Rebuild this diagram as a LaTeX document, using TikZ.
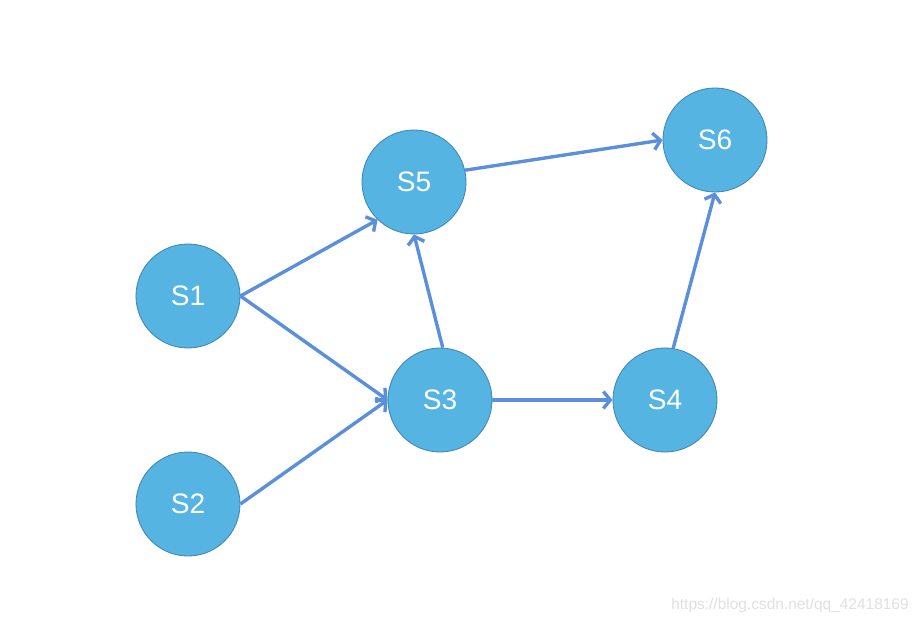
\documentclass[tikz,border=0pt]{standalone}
\usepackage{fontspec}
\setmainfont{Liberation Sans}
\definecolor{statefill}{HTML}{56B4E2}
\definecolor{stateline}{HTML}{3E86B0}
\definecolor{edgeblue}{HTML}{5B8FDB}
\tikzset{
  state/.style={circle,fill=statefill,draw=stateline,line width=0.6pt,minimum size=2.6cm,inner sep=0pt,text=white,font=\fontsize{20}{24}\selectfont},
  edge/.style={->,draw=edgeblue,line width=2.4pt,>={Straight Barb[length=5pt,width=12pt]}}
}
\usetikzlibrary{arrows.meta}
\begin{document}
\begin{tikzpicture}[x=0.025cm,y=-0.025cm]
\useasboundingbox (0,0) rectangle (922,624);
% states
\node[state] (s1) at (188,296) {S1};
\node[state] (s2) at (188,504) {S2};
\node[state] (s3) at (440,400) {S3};
\node[state] (s4) at (665,400) {S4};
\node[state] (s5) at (414,182) {S5};
\node[state] (s6) at (715,140) {S6};
% transitions
\draw[edge] (s1.east) -- (s5.226);
\draw[edge] (s1.east) -- (s3.west);
\draw[edge] (s2.east) -- (s3.west);
\draw[edge] (s3.87) -- (s5.south);
\draw[edge] (s3.east) -- (s4.west);
\draw[edge] (s5.13) -- (s6.west);
\draw[edge] (s4.81) -- (s6.south);
% watermark
\node[text=black!12,font=\fontsize{11}{13}\selectfont] (mark) at (790,605) {https://blog.csdn.net/qq\_42418169};
\end{tikzpicture}
\end{document}
